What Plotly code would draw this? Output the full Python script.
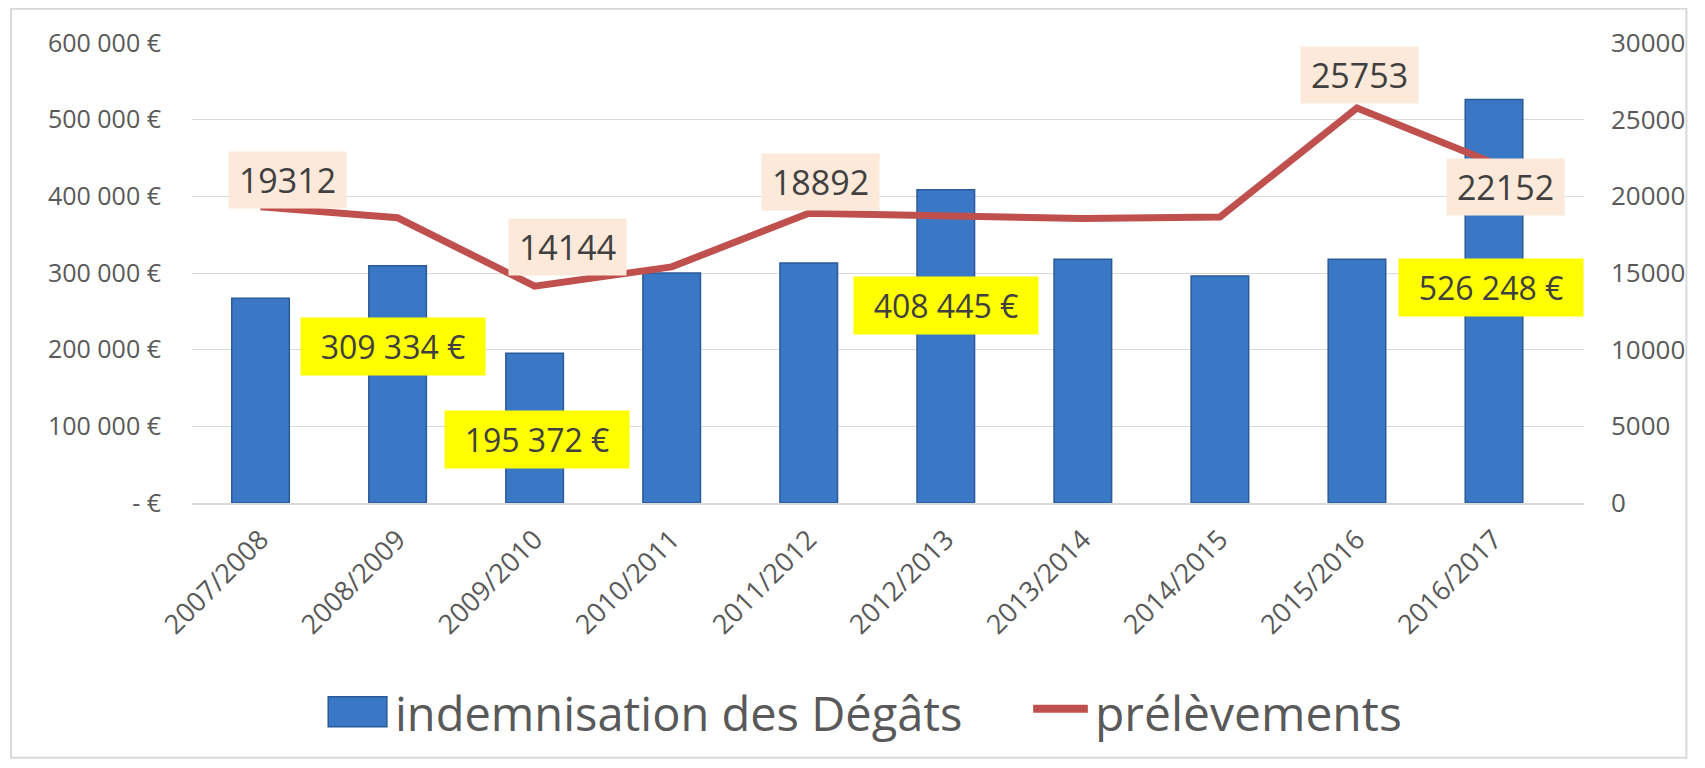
import plotly.graph_objects as go

categories = ["2007/2008", "2008/2009", "2009/2010", "2010/2011", "2011/2012",
              "2012/2013", "2013/2014", "2014/2015", "2015/2016", "2016/2017"]
indemnisation = [267000, 309334, 195372, 300000, 313000, 408445, 318000, 296000, 318000, 526248]
prelevements = [19312, 18600, 14144, 15400, 18892, 18700, 18560, 18650, 25753, 22152]

left_tickvals = [0, 100000, 200000, 300000, 400000, 500000, 600000]
left_ticktext = ["- €", "100 000 €", "200 000 €", "300 000 €", "400 000 €", "500 000 €", "600 000 €"]
right_tickvals = [0, 5000, 10000, 15000, 20000, 25000, 30000]
right_ticktext = ["0", "5000", "10000", "15000", "20000", "25000", "30000"]

# labelled points: (index, text, xshift, yshift)
line_labels = [(0, "19312", 27, 27), (2, "14144", 33, 39), (4, "18892", 12, 31),
               (8, "25753", 3, 33), (9, "22152", 11, -24)]
bar_labels = [(1, "309 334 €", -5, -81), (2, "195 372 €", 2, -86),
              (5, "408 445 €", 0, -116), (9, "526 248 €", -3, -188)]

FONT = "Open Sans"
TXT = "#404040"
GRAY = "#595959"

fig = go.Figure()
fig.add_trace(go.Bar(
    x=categories, y=indemnisation, name="indemnisation des Dégâts",
    marker=dict(color="#3A78C6", line=dict(color="#2B5A98", width=1.5)),
    yaxis="y", showlegend=False,
))
fig.add_trace(go.Scatter(
    x=categories, y=prelevements, name="prélèvements", mode="lines",
    line=dict(color="#C0504D", width=7), yaxis="y2", showlegend=False,
))

annotations = []
for i, t, dx, dy in line_labels:
    annotations.append(dict(
        x=categories[i], y=prelevements[i], xref="x", yref="y2", text=t,
        showarrow=False, xshift=dx, yshift=dy, xanchor="center", yanchor="middle",
        bgcolor="#FDE9D9", width=117, height=56, borderpad=0,
        font=dict(family=FONT, size=34, color=TXT),
    ))
for i, t, dx, dy in bar_labels:
    annotations.append(dict(
        x=categories[i], y=indemnisation[i], xref="x", yref="y", text=t,
        showarrow=False, xshift=dx, yshift=dy, xanchor="center", yanchor="middle",
        bgcolor="#FFFF00", width=184, height=57, borderpad=0,
        font=dict(family=FONT, size=32, color=TXT),
    ))

# page has an 8px body margin; plot area in page pixels: x 192..1592, y 43.3..503.3
W, L, T, H = 1400.0, 192.0, 43.3, 460.0
def px(p):
    return (p - L) / W
def py(p):
    return (T + H - p) / H

annotations.append(dict(x=px(394), y=py(713), xref="paper", yref="paper",
                        text="indemnisation des Dégâts", showarrow=False,
                        xanchor="left", yanchor="middle",
                        font=dict(family=FONT, size=47, color=GRAY)))
annotations.append(dict(x=px(1098), y=py(713), xref="paper", yref="paper",
                        text="prélèvements", showarrow=False,
                        xanchor="left", yanchor="middle",
                        font=dict(family=FONT, size=48, color=GRAY)))

shapes = [
    dict(type="rect", xref="paper", yref="paper", x0=px(10), x1=px(1695),
         y0=py(758), y1=py(9), line=dict(color="#D9D9D9", width=2), layer="below"),
    dict(type="rect", xref="paper", yref="paper", x0=px(329), x1=px(388),
         y0=py(727), y1=py(697), fillcolor="#3A78C6",
         line=dict(color="#2B5A98", width=1.5)),
    dict(type="line", xref="paper", yref="paper", x0=px(1038), x1=px(1093),
         y0=py(709), y1=py(709), line=dict(color="#C0504D", width=8)),
]

fig.update_layout(
    width=1689, height=752,
    margin=dict(l=184, r=105, t=35, b=257),
    paper_bgcolor="white", plot_bgcolor="white",
    bargap=0.58,
    font=dict(family=FONT, color=GRAY),
    xaxis=dict(type="category", tickangle=-45, showgrid=False,
               showline=True, linecolor="#D9D9D9", linewidth=2,
               ticks="", ticklabelstandoff=8,
               tickfont=dict(family=FONT, size=27, color=GRAY)),
    yaxis=dict(range=[0, 600000], tickvals=left_tickvals, ticktext=left_ticktext,
               showgrid=True, gridcolor="#D9D9D9", gridwidth=1, zeroline=False,
               ticklabelstandoff=30,
               tickfont=dict(family=FONT, size=25, color=GRAY)),
    yaxis2=dict(range=[0, 30000], tickvals=right_tickvals, ticktext=right_ticktext,
                overlaying="y", side="right",
                showgrid=False, zeroline=False, ticklabelstandoff=26,
                tickfont=dict(family=FONT, size=26, color=GRAY)),
    annotations=annotations,
    shapes=shapes,
    showlegend=False,
)

fig.write_html("out.html")
